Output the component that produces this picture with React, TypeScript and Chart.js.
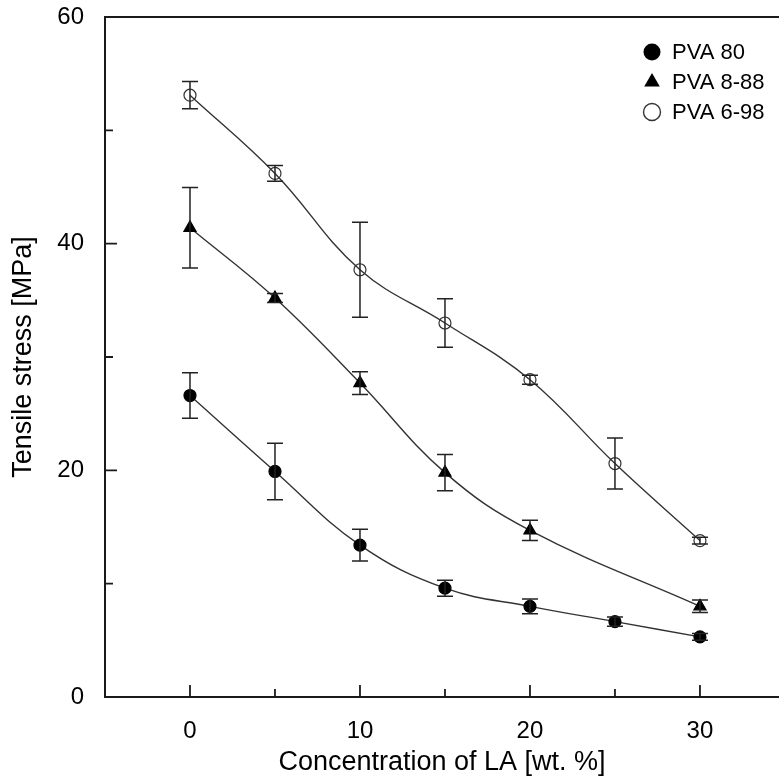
import React, { useEffect, useRef } from "react";
import { Chart, registerables } from "chart.js";

Chart.register(...registerables);

const concentrations = [0, 5, 10, 15, 20, 25, 30];
const pva80 = [26.6, 19.9, 13.4, 9.6, 8.0, 6.65, 5.3];
const pva80Err = [2.0, 2.5, 1.4, 0.7, 0.65, 0.4, 0.3];
const pva888 = [41.4, 35.2, 27.7, 19.8, 14.7, null, 8.0];
const pva888Err = [3.55, 0.4, 1.0, 1.6, 0.9, null, 0.55];
const pva698 = [53.1, 46.2, 37.7, 33.0, 28.0, 20.6, 13.8];
const pva698Err = [1.2, 0.7, 4.2, 2.15, 0.4, 2.25, 0.3];
const seriesLabels = ["PVA 80", "PVA 8-88", "PVA 6-98"];
const xTickLabels = [0, 10, 20, 30];
const xMinorTicks = [5, 15, 25];
const yTickLabels = [0, 20, 40, 60];
const yMinorTicks = [10, 30, 50];
const xTitle = "Concentration of LA [wt. %]";
const yTitle = "Tensile stress [MPa]";

const FONT = "'Liberation Sans', Arial, sans-serif";
const INK = "#1a1a1a";

const errors = [pva80Err, pva888Err, pva698Err];

const errorBarPlugin = {
  id: "errorBars",
  afterDatasetsDraw(chart: any) {
    const ctx = chart.ctx;
    const xs = chart.scales.x;
    const ys = chart.scales.y;
    ctx.save();
    ctx.strokeStyle = "#222";
    ctx.lineWidth = 1.5;
    chart.data.datasets.forEach((ds: any, i: number) => {
      const err = errors[i];
      ds.data.forEach((p: any, j: number) => {
        if (p.y == null || err[j] == null) return;
        const x = xs.getPixelForValue(p.x);
        const yt = ys.getPixelForValue(p.y + err[j]);
        const yb = ys.getPixelForValue(p.y - err[j]);
        const w = 8;
        ctx.beginPath();
        ctx.moveTo(x, yt);
        ctx.lineTo(x, yb);
        ctx.moveTo(x - w, yt);
        ctx.lineTo(x + w, yt);
        ctx.moveTo(x - w, yb);
        ctx.lineTo(x + w, yb);
        ctx.stroke();
      });
    });
    ctx.restore();
  },
};

const frameTicksPlugin = {
  id: "frameTicks",
  afterDraw(chart: any) {
    const ctx = chart.ctx;
    const { left, top, bottom } = chart.chartArea;
    const xs = chart.scales.x;
    const ys = chart.scales.y;
    ctx.save();
    ctx.strokeStyle = INK;
    ctx.lineWidth = 2;
    ctx.beginPath();
    ctx.moveTo(left - 1, top);
    ctx.lineTo(chart.width, top);
    ctx.moveTo(left - 1, bottom);
    ctx.lineTo(chart.width, bottom);
    ctx.stroke();
    ctx.lineWidth = 1.8;
    ctx.beginPath();
    xTickLabels.forEach((v) => {
      const x = xs.getPixelForValue(v);
      ctx.moveTo(x, bottom);
      ctx.lineTo(x, bottom - 12);
    });
    xMinorTicks.forEach((v) => {
      const x = xs.getPixelForValue(v);
      ctx.moveTo(x, bottom);
      ctx.lineTo(x, bottom - 8);
    });
    yTickLabels.forEach((v) => {
      const y = ys.getPixelForValue(v);
      ctx.moveTo(left, y);
      ctx.lineTo(left + 12, y);
    });
    yMinorTicks.forEach((v) => {
      const y = ys.getPixelForValue(v);
      ctx.moveTo(left, y);
      ctx.lineTo(left + 8, y);
    });
    ctx.stroke();
    ctx.restore();
  },
};

const legendPlugin = {
  id: "customLegend",
  afterDraw(chart: any) {
    const ctx = chart.ctx;
    const mx = 652;
    const tx = 672;
    const y0 = 52;
    const dy = 30;
    ctx.save();
    ctx.font = `22px ${FONT}`;
    ctx.textBaseline = "middle";
    ctx.textAlign = "left";
    chart.data.datasets.forEach((ds: any, i: number) => {
      const y = y0 + i * dy;
      ctx.beginPath();
      if (ds.pointStyle === "triangle") {
        const r = 9;
        ctx.moveTo(mx, y - r);
        ctx.lineTo(mx + r * 0.866, y + r * 0.5);
        ctx.lineTo(mx - r * 0.866, y + r * 0.5);
        ctx.closePath();
      } else {
        ctx.arc(mx, y, 8.5, 0, Math.PI * 2);
      }
      if (ds.pointBackgroundColor !== "rgba(0,0,0,0)") {
        ctx.fillStyle = "#000";
        ctx.fill();
      } else {
        ctx.strokeStyle = "#333";
        ctx.lineWidth = 1.4;
        ctx.stroke();
      }
      ctx.fillStyle = "#000";
      ctx.fillText(ds.label, tx, y + 1);
    });
    ctx.restore();
  },
};

export default function App() {
  const ref = useRef<HTMLCanvasElement | null>(null);
  useEffect(() => {
    if (!ref.current) return;
    const mk = (arr: (number | null)[]) => concentrations.map((x, i) => ({ x, y: arr[i] }));
    const common = {
      borderColor: "#333",
      borderWidth: 1.4,
      tension: 0.4,
      spanGaps: true,
      fill: false,
      pointBorderWidth: 1.2,
    };
    const chart = new Chart(ref.current, {
      type: "line",
      data: {
        datasets: [
          {
            ...common,
            label: seriesLabels[0],
            data: mk(pva80),
            pointStyle: "circle",
            pointRadius: 6,
            pointBackgroundColor: "#000",
            pointBorderColor: "#000",
          },
          {
            ...common,
            label: seriesLabels[1],
            data: mk(pva888),
            pointStyle: "triangle",
            pointRadius: 7,
            pointBackgroundColor: "#000",
            pointBorderColor: "#000",
          },
          {
            ...common,
            label: seriesLabels[2],
            data: mk(pva698),
            pointStyle: "circle",
            pointRadius: 6,
            pointBackgroundColor: "rgba(0,0,0,0)",
            pointBorderColor: "#333",
          },
        ] as any,
      },
      options: {
        animation: false,
        responsive: false,
        devicePixelRatio: 1,
        layout: { autoPadding: false, padding: { top: 17, left: 0, right: 0, bottom: 0 } },
        plugins: { legend: { display: false }, tooltip: { enabled: false } },
        scales: {
          x: {
            type: "linear",
            min: -5,
            max: 34.65,
            afterBuildTicks: (s: any) => {
              s.ticks = xTickLabels.map((v) => ({ value: v }));
            },
            afterFit: (s: any) => {
              s.height = 83;
              s.paddingLeft = 0;
              s.paddingRight = 0;
              s.paddingTop = 0;
              s.paddingBottom = 0;
            },
            grid: { display: false, drawTicks: false },
            border: { display: false },
            ticks: {
              color: "#000",
              font: { family: FONT, size: 24 },
              padding: 20,
              maxRotation: 0,
              autoSkip: false,
            },
            title: {
              display: true,
              text: xTitle,
              color: "#000",
              font: { family: FONT, size: 27 },
              padding: { top: 0, bottom: 1 },
            },
          },
          y: {
            type: "linear",
            min: 0,
            max: 60,
            afterBuildTicks: (s: any) => {
              s.ticks = yTickLabels.map((v) => ({ value: v }));
            },
            afterFit: (s: any) => {
              s.width = 105;
              s.paddingLeft = 0;
              s.paddingRight = 0;
              s.paddingTop = 0;
              s.paddingBottom = 0;
            },
            grid: { display: false, drawTicks: false },
            border: { display: true, color: INK, width: 2 },
            ticks: {
              color: "#000",
              font: { family: FONT, size: 24 },
              padding: 21,
              autoSkip: false,
            },
            title: {
              display: true,
              text: yTitle,
              color: "#000",
              font: { family: FONT, size: 27 },
              padding: { top: 7, bottom: 0 },
            },
          },
        },
      } as any,
      plugins: [errorBarPlugin, frameTicksPlugin, legendPlugin],
    });
    return () => chart.destroy();
  }, []);
  return (
    <div style={{ position: "fixed", left: 0, top: 0, width: 779, height: 780, background: "#fff" }}>
      <canvas ref={ref} width={779} height={780} style={{ width: 779, height: 780, display: "block" }} />
    </div>
  );
}
